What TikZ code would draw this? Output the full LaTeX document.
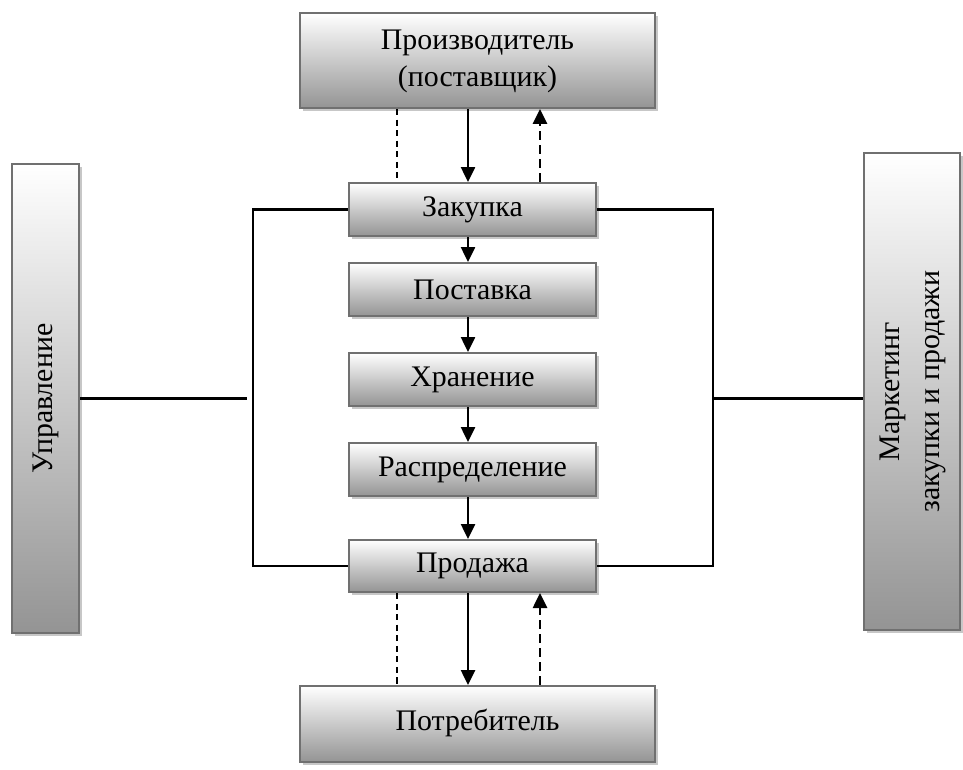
\documentclass[tikz,border=0pt]{standalone}
\usepackage{fontspec}
\setmainfont{Liberation Serif}
\usetikzlibrary{arrows.meta,shadows}
\tikzset{
  blok/.style={draw=black!56,line width=1.2pt,top color=white,bottom color=black!42,
    drop shadow={shadow xshift=0.06cm,shadow yshift=-0.06cm,fill=black!22,opacity=1},
    inner sep=0pt,align=center,font=\fontsize{17}{21}\selectfont},
  strelka/.style={line width=1.3pt,-{Triangle[length=8.5pt,width=8pt]}},
  pstrelka/.style={line width=1.4pt,dash pattern=on 5pt off 3pt,-{Triangle[length=8.5pt,width=8pt]}},
  punktir/.style={line width=0.8pt,dash pattern=on 3.5pt off 2.5pt},
  liniya/.style={line width=1.3pt}
}
\begin{document}
\begin{tikzpicture}[x=0.02cm,y=-0.02cm]
        \useasboundingbox (0,0) rectangle (963,769);
        \def\xc{468} \def\xl{397} \def\xr{540}
        \def\xlf{253} \def\xrf{713}

        \coordinate (mid) at (\xc,0);
        \coordinate (dl) at (\xl,0);
        \coordinate (dr) at (\xr,0);
        \coordinate (lf) at (\xlf,0);
        \coordinate (lg) at (247,0);
        \coordinate (rf) at (\xrf,0);

        \node (proizv) at (477.5,60.5) [blok,minimum width=7.1cm,minimum height=1.9cm] {\raisebox{-0.12cm}{\begin{tabular}{c}Производитель\\(поставщик)\end{tabular}}};
        \node (zakup) at (472.5,209.5) [blok,minimum width=4.94cm,minimum height=1.06cm] {Закупка};
        \node (postav) at (472.5,289.5) [blok,minimum width=4.94cm,minimum height=1.06cm] {Поставка};
        \node (hran) at (472.5,379.5) [blok,minimum width=4.94cm,minimum height=1.06cm] {Хранение};
        \node (raspr) at (472.5,469.5) [blok,minimum width=4.94cm,minimum height=1.06cm] {Распределение};
        \node (prodaj) at (472.5,566) [blok,minimum width=4.94cm,minimum height=1.04cm] {Продажа};
        \node (potreb) at (477.5,724) [blok,minimum width=7.1cm,minimum height=1.52cm] {\raisebox{0.15cm}{Потребитель}};
        \node (uprav) at (45.5,398.5) [blok,minimum width=1.34cm,minimum height=9.38cm] {\rotatebox{90}{Управление}};
        \node (market) at (912,391.5) [blok,minimum width=1.92cm,minimum height=9.54cm] {\rotatebox{90}{\begin{tabular}{c}Маркетинг\\[2pt]закупки и продажи\end{tabular}}};

        \draw[strelka] (proizv.south -| mid) -- (zakup.north -| mid);
        \draw[punktir] (proizv.south -| dl) -- (zakup.north -| dl);
        \draw[pstrelka] (zakup.north -| dr) -- (proizv.south -| dr);

        \draw[strelka] (zakup.south -| mid) -- (postav.north -| mid);
        \draw[strelka] (postav.south -| mid) -- (hran.north -| mid);
        \draw[strelka] (hran.south -| mid) -- (raspr.north -| mid);
        \draw[strelka] (raspr.south -| mid) -- (prodaj.north -| mid);

        \draw[strelka] (prodaj.south -| mid) -- (potreb.north -| mid);
        \draw[punktir] (prodaj.south -| dl) -- (potreb.north -| dl);
        \draw[pstrelka] (potreb.north -| dr) -- (prodaj.south -| dr);

        \draw[liniya] (zakup.west) -- (zakup.west -| lf) -- (prodaj.west -| lf) -- (prodaj.west);
        \draw[liniya] (zakup.east) -- (zakup.east -| rf) -- (prodaj.east -| rf) -- (prodaj.east);
        \draw[liniya] (uprav.east) -- (uprav.east -| lg);
        \draw[liniya] (rf |- uprav.east) -- (market.west |- uprav.east);
      \end{tikzpicture}
\end{document}
